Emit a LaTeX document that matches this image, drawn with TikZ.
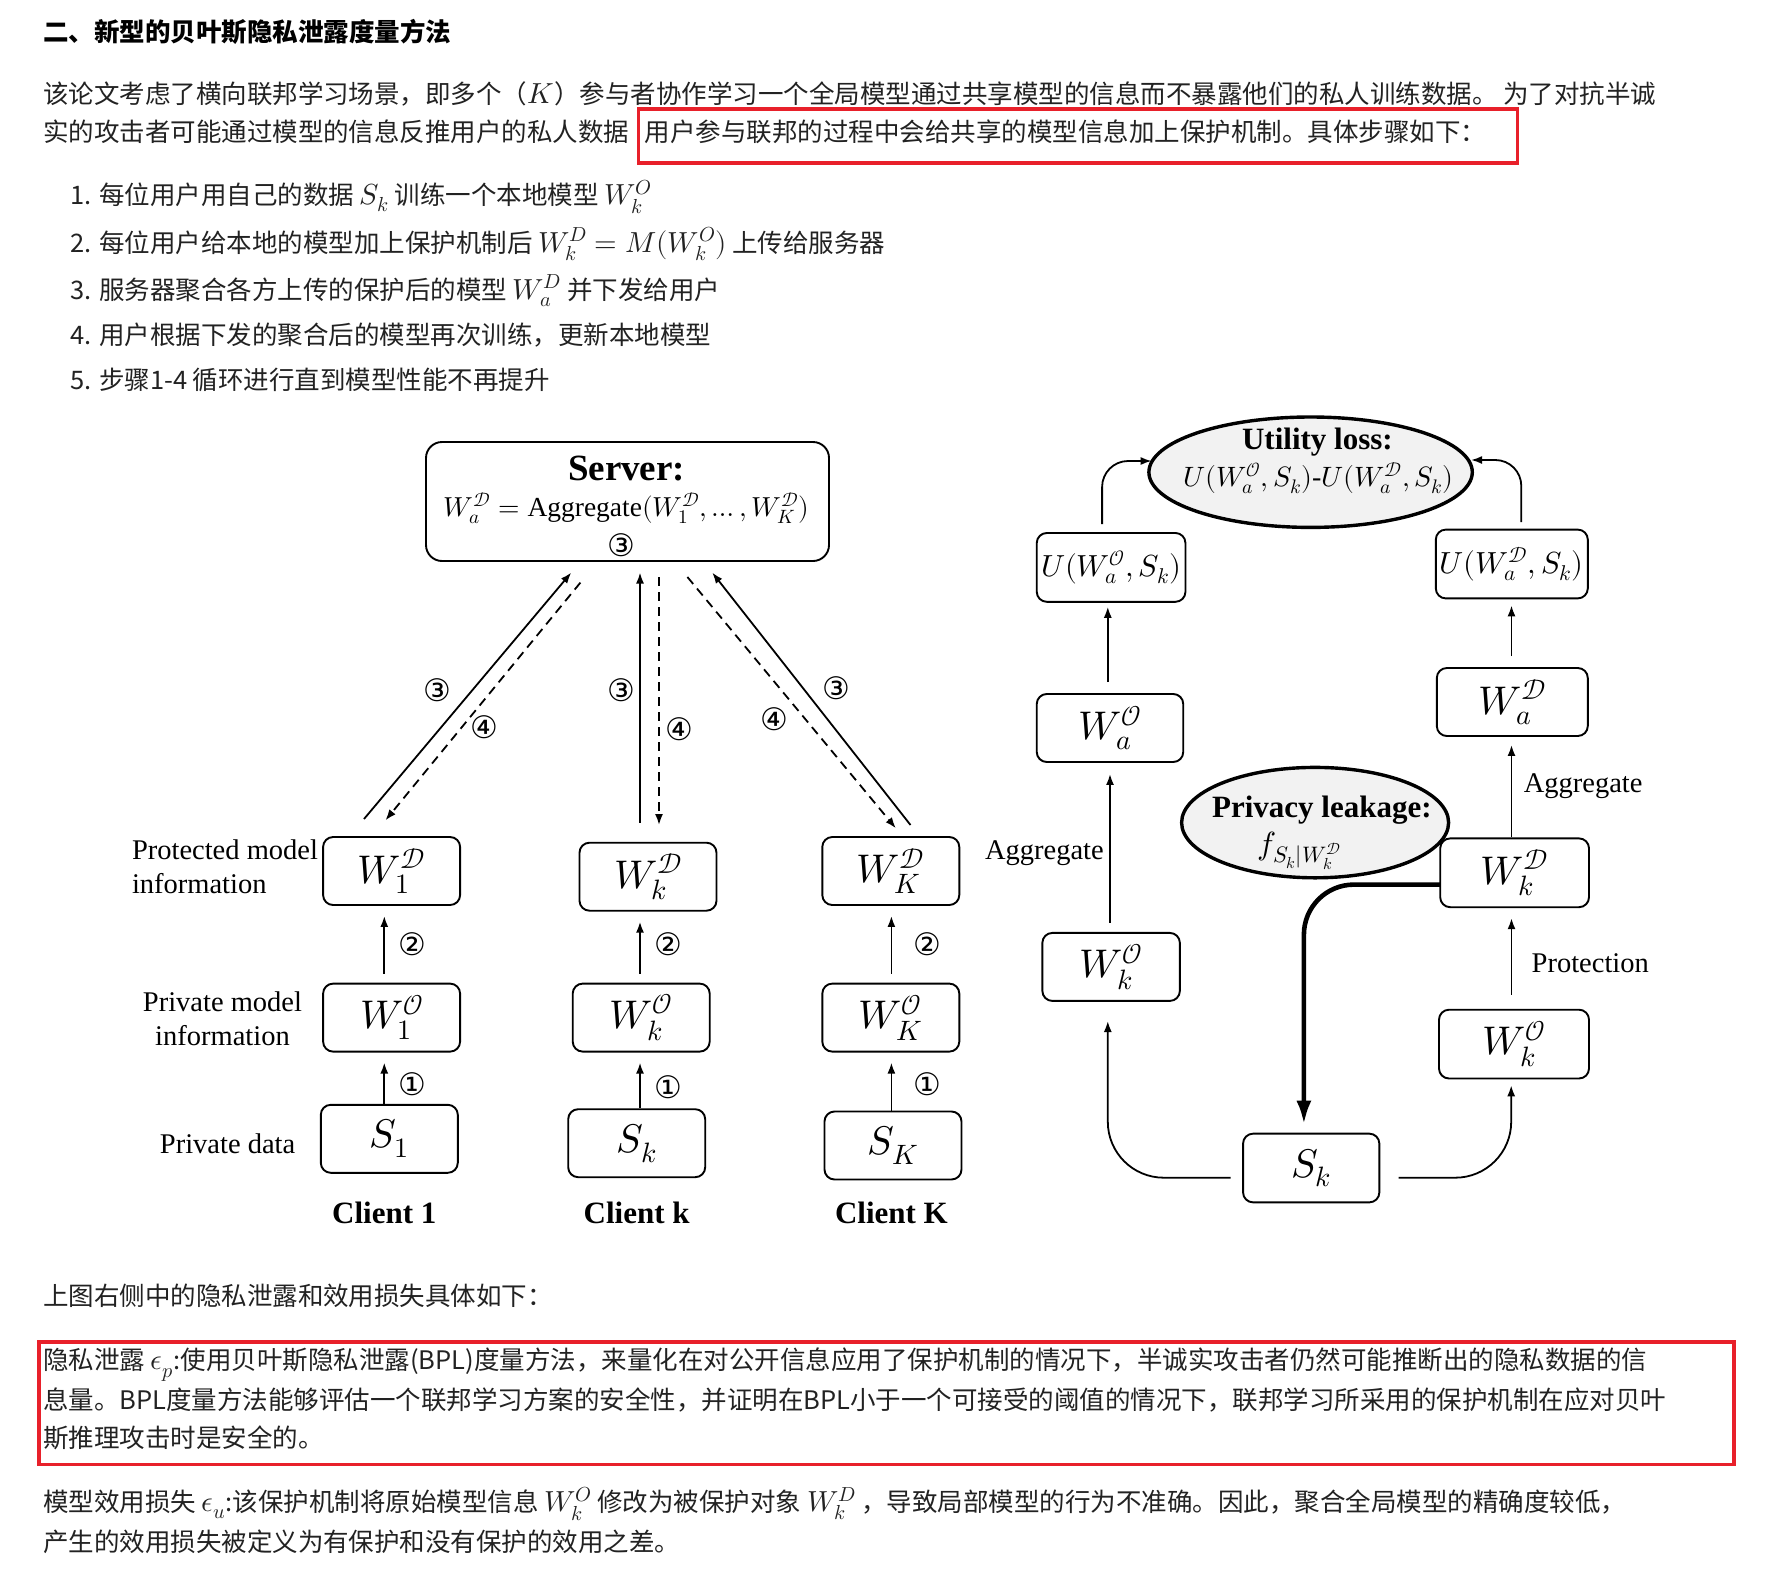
\documentclass[tikz,border=0pt]{standalone}
\usepackage{amsmath}
\usepackage{fontspec}
\usepackage{unicode-math}
\setmainfont{Liberation Serif}
\setmathfont{Latin Modern Math}
\newfontfamily\cjk{Noto Sans CJK SC}
\newfontfamily\circfont{DejaVu Sans}
\usetikzlibrary{arrows.meta,shapes.geometric}
\newcommand\fsz[1]{\fontsize{#1}{#1}\selectfont}
\newcommand\km[1]{{\fsz{29}$#1$}}
\newcommand\cD{\mathcal{D}}
\newcommand\cO{\mathcal{O}}
\definecolor{redline}{RGB}{232,32,42}
\definecolor{txt}{RGB}{34,34,34}
\definecolor{ellfill}{RGB}{242,242,242}
\begin{document}
\begin{tikzpicture}[x=1pt,y=-1pt,
  every node/.style={inner sep=0pt},
  body/.style={font=\cjk\fsz{25.5}, text=txt, anchor=base west},
  hdr/.style={font=\cjk\bfseries\fsz{25.5}, text=black, anchor=base west},
  mbox/.style={draw, fill=white, rounded corners=10pt, line width=1.9pt, minimum width=137pt, minimum height=68pt, font=\fsz{40}},
  lbl/.style={font=\fontsize{28.5}{33.8}\selectfont},
  ttl/.style={font=\bfseries\fsz{31}},
  circ/.style={font=\circfont\fsz{31}},
  arr/.style={line width=1.8pt, -{Latex[length=11pt,width=8pt]}},
  dsh/.style={arr, dash pattern=on 9pt off 6pt},
  ell/.style={draw, ellipse, line width=3.4pt, fill=ellfill},
  redbox/.style={draw=redline, line width=3.6pt},
  fat/.style={line width=4.6pt, -{Latex[length=24pt,width=15pt]}}
]
\useasboundingbox (0,0) rectangle (1767,1595);
\fill[white] (0,0) rectangle (1767,1595);

% ---------- top text ----------
\node[hdr] (h) at (43,41.3) {二、新型的贝叶斯隐私泄露度量方法};
\node[body] (p1) at (42.8,103.2) {该论文考虑了横向联邦学习场景，即多个（\km{K}）参与者协作学习一个全局模型通过共享模型的信息而不暴露他们的私人训练数据。 为了对抗半诚};
\node[body] (p2a) at (42.8,141.6) {实的攻击者可能通过模型的信息反推用户的私人数据};
\node[body] (p2b) at (644.6,141.6) {用户参与联邦的过程中会给共享的模型信息加上保护机制。具体步骤如下：};
\node[redbox, anchor=north west, minimum width=879pt, minimum height=54.2pt] (rb1) at (636.7,107) {};

\node[body] (i1) at (70,204.7) {1. 每位用户用自己的数据 \km{S_k} 训练一个本地模型 \km{W_k^O}};
\node[body] (i2) at (70,252) {2. 每位用户给本地的模型加上保护机制后 \km{W_k^D = M(W_k^O)} 上传给服务器};
\node[body] (i3) at (70,299.3) {3. 服务器聚合各方上传的保护后的模型 \km{W_a^D} 并下发给用户};
\node[body] (i4) at (70,344.4) {4. 用户根据下发的聚合后的模型再次训练，更新本地模型};
\node[body] (i5) at (70,389.5) {5. 步骤1-4 循环进行直到模型性能不再提升};

% ---------- left diagram ----------
\node[draw, rounded corners=16pt, line width=1.9pt, minimum width=403pt, minimum height=119pt] (server) at (627.5,501.5) {};
\node[font=\bfseries\fsz{37}] (servt) at (626.6,468.8) {Server:};
\node[font=\fsz{27.5}] (servf) at (626.6,508.2) {$W_a^{\cD} = \mbox{Aggregate}(W_1^{\cD}, \ldots, W_K^{\cD})$};
\node[circ] (serv3) at (621,545.4) {③};

\node[mbox] (d1) at (391.6,871) {$W_1^{\cD}$};
\node[mbox] (o1) at (391.6,1017.6) {$W_1^{\cO}$};
\node[mbox] (s1) at (389.3,1138.8) {$S_1$};
\node[mbox] (dk) at (648,876.7) {$W_k^{\cD}$};
\node[mbox] (ok) at (641.2,1017.6) {$W_k^{\cO}$};
\node[mbox] (sk) at (636.7,1143.2) {$S_k$};
\node[mbox] (dK) at (890.8,871) {$W_K^{\cD}$};
\node[mbox] (oK) at (890.8,1017.6) {$W_K^{\cO}$};
\node[mbox] (sK) at (893,1145.5) {$S_K$};

\coordinate (x1) at (384.3,0);
\coordinate (xk) at (640,0);
\coordinate (xK) at (891.4,0);
\draw[arr, shorten >=10pt] (s1.north -| x1) -- (o1.south -| x1);
\draw[arr, shorten <=9pt, shorten >=10pt] (o1.north -| x1) -- (d1.south -| x1);
\draw[arr, shorten >=10pt] (sk.north -| xk) -- (ok.south -| xk);
\draw[arr, shorten <=9pt, shorten >=10pt] (ok.north -| xk) -- (dk.south -| xk);
\draw[arr, shorten >=10pt] (sK.north -| xK) -- (oK.south -| xK);
\draw[arr, shorten <=9pt, shorten >=10pt] (oK.north -| xK) -- (dK.south -| xK);

\node[circ] (n1a) at (412.5,1084) {①};
\node[circ] (n2a) at (412.5,944.4) {②};
\node[circ] (n1b) at (668.3,1087.5) {①};
\node[circ] (n2b) at (668.3,944.4) {②};
\node[circ] (n1c) at (927.5,1084) {①};
\node[circ] (n2c) at (927.5,944.4) {②};

% server links
\coordinate (l3s) at (364,819);   \coordinate (l3e) at (571.3,572.5);
\coordinate (l4s) at (580.4,582.6); \coordinate (l4e) at (385.4,820.4);
\coordinate (m3s) at (640,822.7); \coordinate (m3e) at (640,572.5);
\coordinate (m4s) at (659,577);   \coordinate (m4e) at (659,825);
\coordinate (r4s) at (687.4,577); \coordinate (r4e) at (895.9,828.3);
\coordinate (r3s) at (910.5,825); \coordinate (r3e) at (712.2,572.5);
\draw[arr] (l3s) -- (l3e);
\draw[dsh] (l4s) -- (l4e);
\draw[arr] (m3s) -- (m3e);
\draw[dsh] (m4s) -- (m4e);
\draw[dsh] (r4s) -- (r4e);
\draw[arr] (r3s) -- (r3e);
\node[circ] (a3l) at (437,690) {③};
\node[circ] (a4l) at (484.6,727) {④};
\node[circ] (a3m) at (621,690) {③};
\node[circ] (a4m) at (679.5,729) {④};
\node[circ] (a3r) at (836,688.5) {③};
\node[circ] (a4r) at (774,719) {④};

\node[lbl, align=left, anchor=west] (lp) at (131.8,866.6) {Protected model\\information};
\node[lbl, align=center] (lq) at (222.5,1018.7) {Private model\\information};
\node[lbl] (lr) at (227.6,1143.8) {Private data};
\node[ttl] (c1) at (384.3,1212.6) {Client 1};
\node[ttl] (ck) at (636.7,1212.6) {Client k};
\node[ttl] (cK) at (891.4,1212.6) {Client K};

% ---------- right diagram ----------
\node[ell, minimum width=323.4pt, minimum height=110.4pt] (util) at (1310.6,472.2) {};
\node[ttl] (utilt) at (1317.4,441.8) {Utility loss:};
\node[font=\fsz{28}] (utilf) at (1318.5,477.8) {$U(W_a^{\cO},S_k)$-$U(W_a^{\cD},S_k)$};
\node[ell, minimum width=267pt, minimum height=110.4pt] (priv) at (1315.1,822.6) {};
\node[ttl] (privt) at (1321.9,810.3) {Privacy leakage:};
\node[font=\fsz{32}] (privf) at (1299.3,850.8) {$f_{S_k|W_k^{\cD}}$};

\node[mbox, minimum width=148.7pt, minimum height=68.8pt, font=\fsz{30.5}] (uo) at (1111.1,567.4) {$U(W_a^{\cO},S_k)$};
\node[mbox, minimum width=152pt, minimum height=68.8pt, font=\fsz{30.5}] (ud) at (1511.8,564) {$U(W_a^{\cD},S_k)$};
\node[mbox, minimum width=146.5pt] (wao) at (1110,728) {$W_a^{\cO}$};
\node[mbox, minimum width=151pt] (wad) at (1512.3,702) {$W_a^{\cD}$};
\node[mbox, minimum width=148.8pt, minimum height=68.8pt] (wkdr) at (1514.6,872.8) {$W_k^{\cD}$};
\node[mbox, minimum width=137.5pt] (wkol) at (1111.1,966.9) {$W_k^{\cO}$};
\node[mbox, minimum width=150pt, minimum height=68.8pt] (wkor) at (1514,1044.1) {$W_k^{\cO}$};
\node[mbox, minimum width=136.3pt, minimum height=68.7pt] (skr) at (1311.2,1168) {$S_k$};

\coordinate (ua1) at (1102.1,524);  \coordinate (ua2) at (1151.7,461);
\coordinate (ub1) at (1521.3,522);  \coordinate (ub2) at (1471,460);
\coordinate (xa) at (1107.8,0);
\coordinate (xb) at (1110,0);
\coordinate (xc) at (1511.5,0);
\coordinate (fs) at (1440,884.6);
\coordinate (ft) at (1303.9,1124.7);
\coordinate (sl) at (1230.6,1177.7);
\coordinate (sr) at (1398.5,1177.7);
\coordinate (tl) at (1107.8,1021);
\coordinate (tr) at (1511.2,1085.3);

\draw[arr, rounded corners=26pt] (ua1) |- (ua2);
\draw[arr, rounded corners=26pt] (ub1) |- (ub2);
\draw[arr, shorten <=11pt, shorten >=4pt] (wao.north -| xa) -- (uo.south -| xa);
\draw[arr, shorten <=9pt, shorten >=11pt] (wkol.north -| xb) -- (wao.south -| xb);
\draw[arr, rounded corners=56pt] (sl) -| (tl);
\draw[arr, rounded corners=56pt] (sr) -| (tr);
\draw[arr, shorten <=14pt, shorten >=10pt] (wkor.north -| xc) -- (wkdr.south -| xc);
\draw[arr, shorten >=8pt] (wkdr.north -| xc) -- (wad.south -| xc);
\draw[arr, shorten <=11pt, shorten >=6pt] (wad.north -| xc) -- (ud.south -| xc);
\draw[fat, rounded corners=50pt] (fs) -| (ft);

\node[lbl, anchor=east] (agl) at (1104,853.1) {Aggregate};
\node[lbl, anchor=west] (agr) at (1523.6,786.6) {Aggregate};
\node[lbl, anchor=west] (prot) at (1531.5,963.5) {Protection};

% ---------- bottom text ----------
\node[body] (b0) at (42.8,1305.7) {上图右侧中的隐私泄露和效用损失具体如下：};
\node[redbox, anchor=north west, minimum width=1694.8pt, minimum height=122.7pt] (rb2) at (37.2,1340) {};
\node[body] (b1) at (42.8,1369.9) {隐私泄露 \km{\epsilon_p}:使用贝叶斯隐私泄露(BPL)度量方法，来量化在对公开信息应用了保护机制的情况下，半诚实攻击者仍然可能推断出的隐私数据的信};
\node[body] (b2) at (42.8,1409.3) {息量。BPL度量方法能够评估一个联邦学习方案的安全性，并证明在BPL小于一个可接受的阈值的情况下，联邦学习所采用的保护机制在应对贝叶};
\node[body] (b3) at (42.8,1447.7) {斯推理攻击时是安全的。};
\node[body] (b4) at (42.8,1511.7) {模型效用损失 \km{\epsilon_u}:该保护机制将原始模型信息 \km{W_k^O} 修改为被保护对象 \km{W_k^D} ，导致局部模型的行为不准确。因此，聚合全局模型的精确度较低，};
\node[body] (b5) at (42.8,1551.3) {产生的效用损失被定义为有保护和没有保护的效用之差。};
\end{tikzpicture}
\end{document}
